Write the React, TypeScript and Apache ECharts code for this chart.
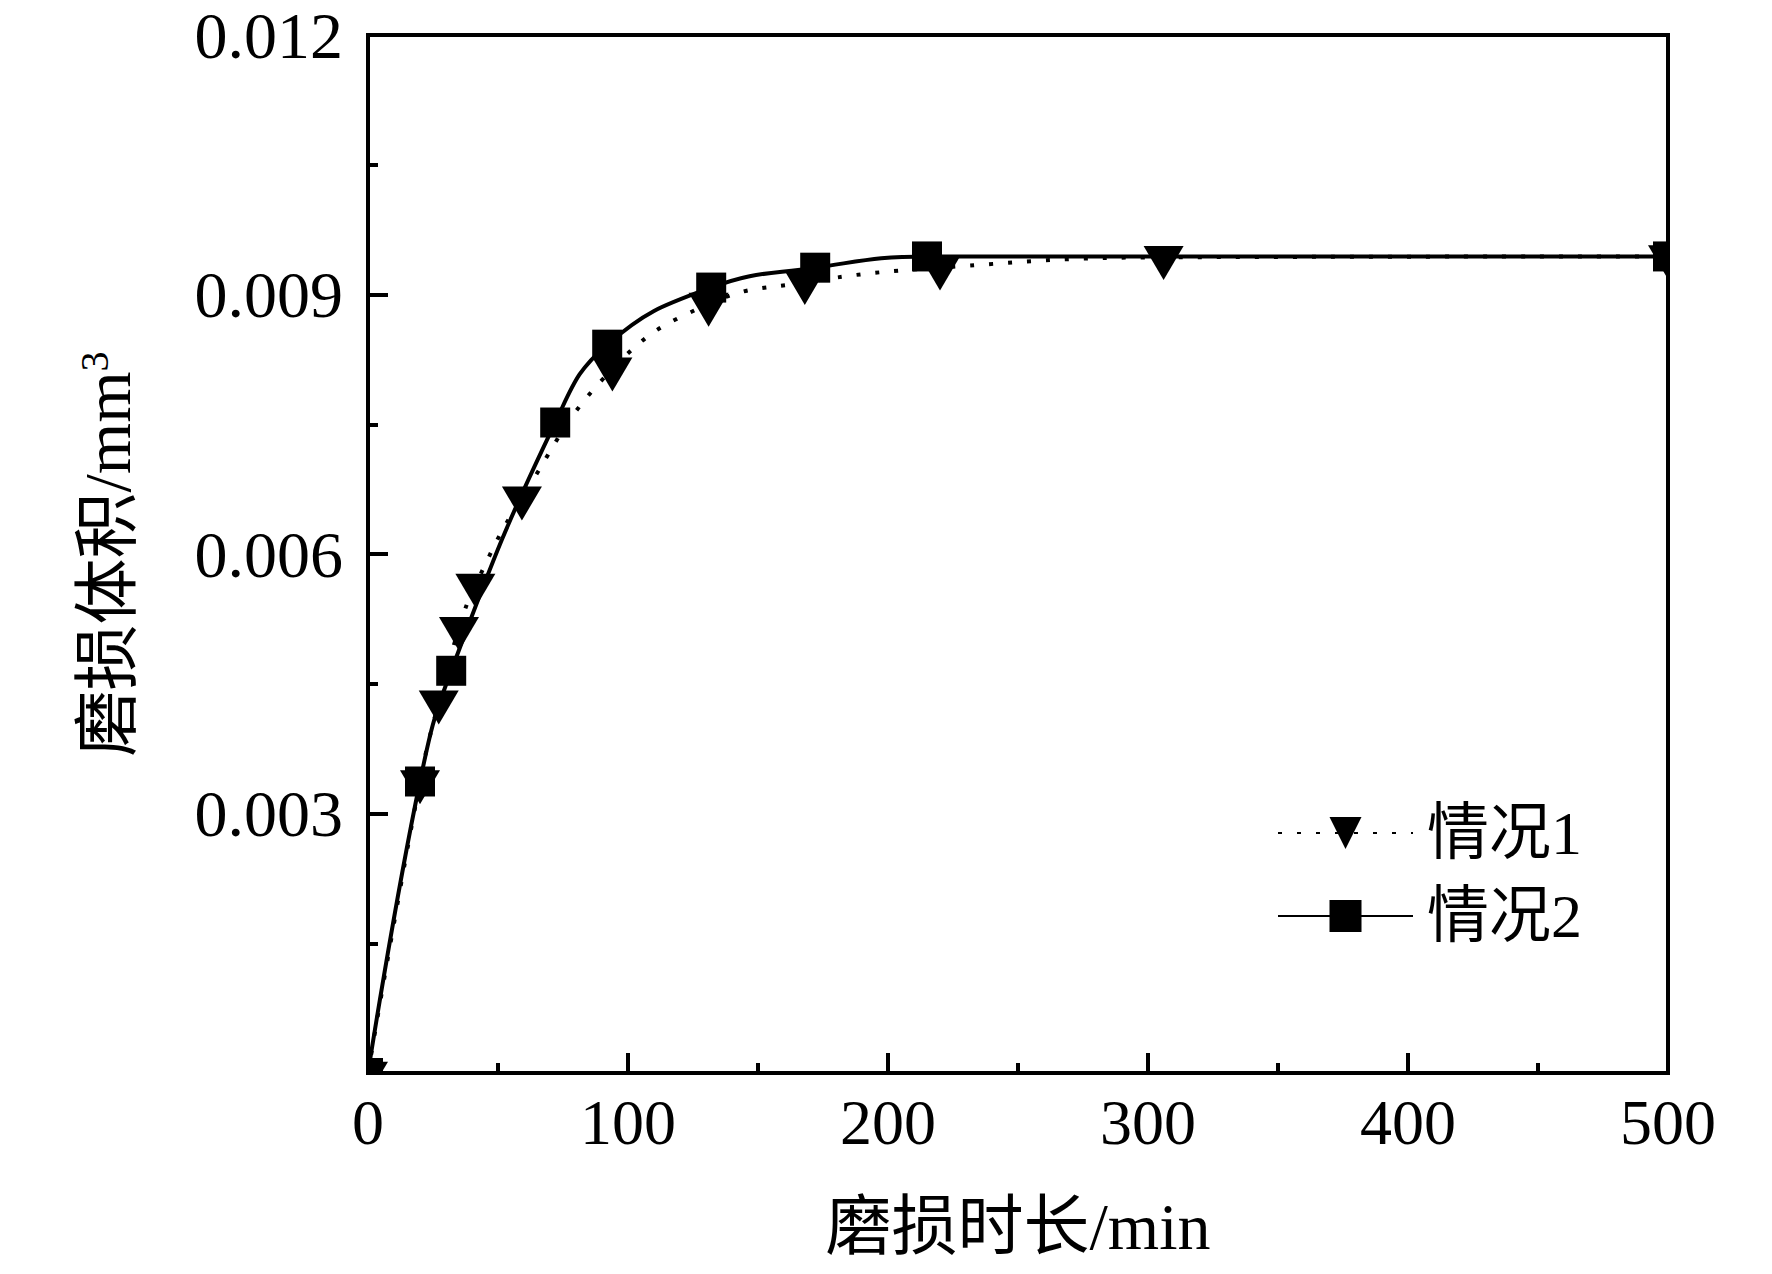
import React, { useEffect, useRef } from 'react';
import * as echarts from 'echarts';

// ---- data ----
const xAxisTitle = '磨损时长/min';
const yAxisTitle = '磨损体积/mm{sup|3}';
const seriesNames = ['情况1', '情况2'];
const xTickValues = [0, 100, 200, 300, 400, 500];
const yTickValues = [0, 0.003, 0.006, 0.009, 0.012];

// 情况1 (triangles, dotted line)
const case1Time = [0, 20, 27.2, 35, 41.3, 59.2, 94, 131, 168, 220, 306, 500];
const case1Volume = [0, 0.00337, 0.00429, 0.00514, 0.00564, 0.00665, 0.00814, 0.00889, 0.00914, 0.00931, 0.00943, 0.00944];

// 情况2 (squares, solid line)
const case2Time = [0, 20, 32, 72, 92, 132, 172, 215, 500];
const case2Volume = [0, 0.00337, 0.00465, 0.00752, 0.00842, 0.00908, 0.00931, 0.00944, 0.00944];

const pairs = (xs: number[], ys: number[]) => xs.map((x, i) => [x, ys[i]]);

export default function App() {
  const ref = useRef<HTMLDivElement>(null);

  useEffect(() => {
    const chart = echarts.init(ref.current!, null, { renderer: 'svg' });
    const font = '"Liberation Serif", "Times New Roman", "Noto Sans CJK SC", serif';
    const data1 = pairs(case1Time, case1Volume);
    const data2 = pairs(case2Time, case2Volume);
    const triPath = 'path://M0,0L40,0L20,34Z';

    const triangleItem = (params: any, api: any) => {
      const p = api.coord([api.value(0), api.value(1)]);
      return {
        type: 'polygon',
        shape: {
          points: [
            [p[0] - 20, p[1] - 11.3],
            [p[0] + 20, p[1] - 11.3],
            [p[0], p[1] + 22.7],
          ],
        },
        style: { fill: '#000' },
      };
    };
    const squareItem = (params: any, api: any) => {
      const p = api.coord([api.value(0), api.value(1)]);
      return {
        type: 'rect',
        shape: { x: p[0] - 15, y: p[1] - 15, width: 30, height: 30 },
        style: { fill: '#000' },
      };
    };

    const axisCommon = {
      axisLine: { show: true, lineStyle: { color: '#000', width: 4 } },
      axisTick: { show: true, inside: true, length: 20, lineStyle: { color: '#000', width: 4 } },
      minorTick: { show: true, splitNumber: 2, length: 10, lineStyle: { color: '#000', width: 4 } },
      splitLine: { show: false },
      minorSplitLine: { show: false },
    };

    chart.setOption({
      animation: false,
      backgroundColor: '#fff',
      grid: {
        left: 368,
        right: 104,
        top: 35,
        bottom: 201,
        show: true,
        borderColor: '#000',
        borderWidth: 4,
        backgroundColor: 'transparent',
      },
      xAxis: {
        type: 'value',
        min: xTickValues[0],
        max: xTickValues[xTickValues.length - 1],
        interval: xTickValues[1] - xTickValues[0],
        name: xAxisTitle,
        nameLocation: 'middle',
        nameGap: 120,
        nameTextStyle: { fontSize: 66, fontFamily: font, color: '#000' },
        axisLabel: { fontSize: 64, fontFamily: font, color: '#000', margin: 17 },
        ...axisCommon,
      },
      yAxis: {
        type: 'value',
        min: yTickValues[0],
        max: yTickValues[yTickValues.length - 1],
        interval: yTickValues[1] - yTickValues[0],
        name: yAxisTitle,
        nameLocation: 'middle',
        nameGap: 228,
        nameTextStyle: {
          fontSize: 66,
          fontFamily: font,
          color: '#000',
          rich: {
            sup: { fontSize: 40, fontFamily: font, color: '#000', verticalAlign: 'top', lineHeight: 40 },
          },
        },
        axisLabel: {
          fontSize: 66,
          fontFamily: font,
          color: '#000',
          margin: 25,
          formatter: (v: number) => (Math.abs(v) < 1e-9 ? '' : v.toFixed(3)),
        },
        ...axisCommon,
      },
      legend: {
        data: seriesNames,
        orient: 'vertical',
        left: 1272,
        top: 797,
        itemWidth: 135,
        itemHeight: 40,
        itemGap: 21,
        selectedMode: false,
        textStyle: { fontSize: 62, fontFamily: font, color: '#000', padding: [0, 0, 0, 9] },
      },
      series: [
        {
          name: seriesNames[0],
          type: 'line',
          data: data1,
          smooth: 0.45,
          showSymbol: false,
          symbol: triPath,
          lineStyle: { color: '#000', width: 4, type: [4, 15], cap: 'butt' },
          itemStyle: { color: '#000' },
          z: 2,
        },
        {
          name: seriesNames[1],
          type: 'line',
          data: data2,
          smooth: 0.45,
          showSymbol: false,
          symbol: 'rect',
          lineStyle: { color: '#000', width: 4, type: 'solid' },
          itemStyle: { color: '#000' },
          z: 2,
        },
        {
          name: 'markers1',
          type: 'custom',
          data: data1,
          clip: true,
          encode: { x: 0, y: 1 },
          renderItem: triangleItem,
          z: 3,
        },
        {
          name: 'markers2',
          type: 'custom',
          data: data2,
          clip: true,
          encode: { x: 0, y: 1 },
          renderItem: squareItem,
          z: 4,
        },
      ],
    });

    return () => chart.dispose();
  }, []);

  return (
    <div
      ref={ref}
      style={{ position: 'fixed', left: 0, top: 0, width: 1772, height: 1274, background: '#fff' }}
    />
  );
}
